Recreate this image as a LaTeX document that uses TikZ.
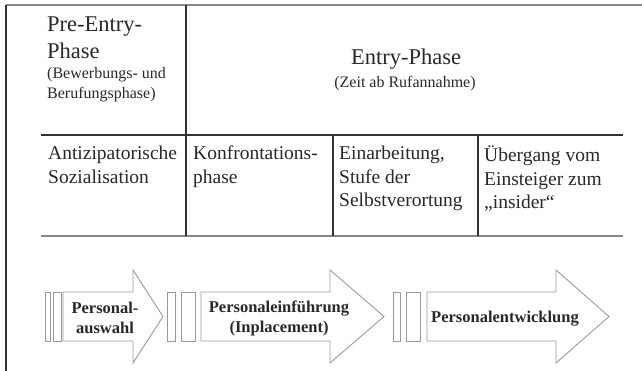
\documentclass[tikz,border=0pt]{standalone}
\usepackage{fontspec}
\setmainfont{Liberation Serif}
\usepackage{tikz}
\definecolor{ink}{RGB}{40,40,40}
\definecolor{rule}{RGB}{50,50,50}
\definecolor{lightrule}{RGB}{135,135,135}
\definecolor{arrowgray}{RGB}{160,152,152}

\begin{document}
\begin{tikzpicture}[x=1pt,y=-1pt,
	big/.style={text=ink,inner sep=0pt,align=left,font=\fontsize{22.5}{27}\selectfont},
	small/.style={text=ink,inner sep=0pt,align=left,font=\fontsize{16}{20}\selectfont},
	cell/.style={text=ink,inner sep=0pt,align=left,anchor=north west,font=\fontsize{19.5}{23.5}\selectfont},
	label/.style={text=ink,inner sep=0pt,align=center,font=\bfseries\fontsize{16.5}{20}\selectfont}]
		\useasboundingbox (0,0) rectangle (642,371);
		% frame and table
		\draw[lightrule,line width=1.2pt] (6,5) -- (642,5);
		\draw[rule,line width=1.2pt] (6,5) -- (6,371);
		\draw[rule,line width=1.4pt] (41,135) -- (623,135);
		\draw[lightrule,line width=1.4pt] (41,236) -- (623,236);
		\draw[rule,line width=1.4pt] (186,5) -- (186,236);
		\draw[rule,line width=1.4pt] (333,135) -- (333,236);
		\draw[rule,line width=1.4pt] (478,135) -- (478,236);
		% header
		\node[big,anchor=north west] (pre) at (47,17) {Pre-Entry-\\Phase};
		\node[small,anchor=north west] (pretxt) at (47,67) {(Bewerbungs- und\\Berufungsphase)};
		\node[big,anchor=base] (entry) at (406,65) {Entry-Phase};
		\node[small,anchor=base] (entrytxt) at (405,88) {(Zeit ab Rufannahme)};
		% second row
		\node[cell] (antiz) at (48,146) {Antizipatorische\\Sozialisation};
		\node[cell] (konfr) at (193,146) {Konfrontations-\\phase};
		\node[cell] (einarb) at (339,146) {Einarbeitung,\\Stufe der\\Selbstverortung};
		\node[cell] (uebergang) at (484,146) {Übergang vom\\Einsteiger zum\\„insider“};
		% arrows with bars
		\foreach \a/\b/\c/\d/\e/\f/\g in {45/50/53/61/63/133/163, 167/175/181/195/201/330/384, 393/400/406/420/427/556/609}{
			\draw[arrowgray,line width=0.9pt,fill=white] (\a,292) rectangle (\b,341);
			\draw[arrowgray,line width=0.9pt,fill=white] (\c,292) rectangle (\d,341);
			\draw[arrowgray,line width=0.9pt,fill=white] (\e,292) -- (\f,292) -- (\f,270) -- (\g,316.5)
				-- (\f,363) -- (\f,341) -- (\e,341) -- cycle;
		}
		\node[label] (auswahl) at (105,317.5) {Personal-\\auswahl};
		\node[label] (einfuehr) at (279,318) {Personaleinführung\\(Inplacement)};
		\node[label,anchor=base] (entwickl) at (505,322) {Personalentwicklung};
\end{tikzpicture}
\end{document}
